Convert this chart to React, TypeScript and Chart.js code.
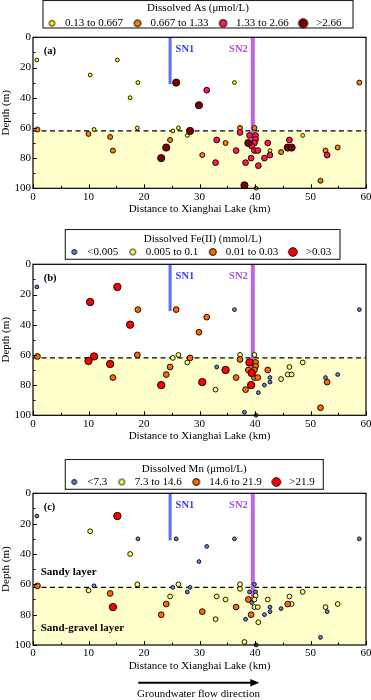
import React, { useEffect, useRef } from "react";
import { Chart, registerables } from "chart.js";

Chart.register(...registerables);

const FONT = "'Liberation Serif', 'Times New Roman', Times, serif";

// ---- sample locations (same wells in all three panels) ----
const distanceKm = [
  0.7, 10.3, 15.2, 18.9, 17.5, 25.8, 31.3, 29.9, 36.3, 58.8,
  0.8, 10.0, 11.0, 13.9, 14.4, 18.8, 23.1, 24.0, 24.7, 25.2,
  26.2, 27.8, 28.3, 30.5, 33.1, 34.7, 36.6, 32.9, 37.3, 37.3,
  39.9, 39.0, 40.1, 40.1, 38.8, 39.9, 39.4, 39.9, 40.5, 39.3,
  38.3, 40.6, 38.1, 40.2, 41.7, 42.7, 42.7, 42.3, 44.7, 45.9,
  46.6, 46.2, 48.6, 52.7, 53.0, 54.9, 51.8,
];
const depthM = [
  15, 25, 15, 30, 40, 30, 35, 45, 30, 30,
  61, 64, 61, 66, 75, 60, 80, 73, 68, 62,
  60, 65, 62, 78, 68, 70, 75, 83, 60, 63,
  60, 65, 65, 67.5, 70, 70, 72, 75, 75, 80,
  83, 85, 98, 100, 80, 78, 75, 70, 76, 73,
  73, 68, 65, 75, 78, 73, 95,
];
// class index (0..3) of each sample for each solute
const asClass = [
  0, 0, 0, 0, 0, 3, 2, 3, 0, 1,
  1, 1, 0, 1, 1, 0, 3, 3, 1, 0,
  0, 0, 3, 1, 2, 1, 2, 2, 1, 2,
  1, 2, 2, 2, 3, 2, 2, 2, 2, 2,
  2, 2, 3, 0, 2, 2, 0, 2, 1, 3,
  3, 2, 0, 1, 2, 1, 1,
];
const feClass = [
  0, 3, 3, 2, 3, 2, 2, 2, 0, 0,
  2, 3, 3, 3, 2, 2, 3, 2, 2, 1,
  1, 1, 2, 3, 0, 3, 2, 1, 1, 2,
  1, 3, 2, 2, 2, 2, 3, 2, 2, 3,
  2, 0, 0, 0, 0, 0, 0, 2, 1, 1,
  1, 1, 1, 0, 2, 0, 2,
];
const mnClass = [
  0, 1, 3, 0, 1, 0, 0, 0, 0, 0,
  2, 1, 0, 2, 3, 1, 2, 2, 1, 0,
  1, 0, 0, 2, 1, 1, 2, 1, 1, 1,
  0, 0, 0, 1, 2, 1, 0, 1, 1, 2,
  0, 1, 1, 0, 0, 0, 0, 1, 0, 2,
  1, 1, 1, 1, 0, 1, 0,
];

const asLabels = ["0.13 to 0.667", "0.667 to 1.33", "1.33 to 2.66", ">2.66"];
const feLabels = ["<0.005", "0.005 to 0.1", "0.01 to 0.03", ">0.03"];
const mnLabels = ["<7.3", "7.3 to 14.6", "14.6 to 21.9", ">21.9"];

const asColors = ["#ffff00", "#ff8000", "#ff1a4e", "#7d0000"];
const metalColors = ["#5b8de6", "#ffff6e", "#ff6a00", "#ff0000"];

const asRadii = [1.9, 2.5, 2.9, 3.6];
const metalRadii = [1.9, 2.4, 2.9, 3.7];
const asLegendRadii = [2.8, 3.4, 3.8, 4.6];
const metalLegendRadii = [2.4, 2.9, 3.4, 4.3];

const X_MIN = 0, X_MAX = 60, X_STEP = 10, X_MINOR = 5;
const Y_MIN = 0, Y_MAX = 100, Y_STEP = 20, Y_MINOR = 10;
const interfaceDepth = 62;
const sn1 = { x: 24.7, bottom: 31, label: "SN1" };
const sn2 = { x: 39.6, bottom: 72, label: "SN2" };

type PanelCfg = {
  tag: string;
  title: string;
  labels: string[];
  classes: number[];
  colors: string[];
  radii: number[];
  legendRadii: number[];
  top: number;
  height: number;
  tTop: number;
  tBottom: number;
  legendH: number;
  boxL: number;
  boxR: number;
  boxTop: number;
  boxH: number;
  padBottom: number;
  layers?: boolean;
  arrow?: boolean;
};

const panels: PanelCfg[] = [
  {
    tag: "(a)", title: "Dissolved As (\u03bcmol/L)", labels: asLabels, classes: asClass,
    colors: asColors, radii: asRadii, legendRadii: asLegendRadii,
    top: 0, height: 229, tTop: 2.8, tBottom: -5.2, legendH: 37.3,
    boxL: 43, boxR: 353, boxTop: 0.5, boxH: 28, padBottom: 13.1,
  },
  {
    tag: "(b)", title: "Dissolved Fe(II) (mmol/L)", labels: feLabels, classes: feClass,
    colors: metalColors, radii: metalRadii, legendRadii: metalLegendRadii,
    top: 229, height: 230, tTop: 4.5, tBottom: -7.2, legendH: 35.3,
    boxL: 65.3, boxR: 340, boxTop: 0.5, boxH: 30.3, padBottom: 16.1,
  },
  {
    tag: "(c)", title: "Dissolved Mn (\u03bcmol/L)", labels: mnLabels, classes: mnClass,
    colors: metalColors, radii: metalRadii, legendRadii: metalLegendRadii,
    top: 459, height: 241, tTop: 4.5, tBottom: -7.2, legendH: 34.3,
    boxL: 65.3, boxR: 323.3, boxTop: 0.5, boxH: 30.3, padBottom: 27.4,
    layers: true, arrow: true,
  },
];

function markerCanvas(color: string, r: number) {
  const size = Math.ceil(2 * r + 3);
  const c = document.createElement("canvas");
  c.width = size;
  c.height = size;
  const g = c.getContext("2d")!;
  g.beginPath();
  g.arc(size / 2, size / 2, r, 0, Math.PI * 2);
  g.fillStyle = color;
  g.fill();
  g.lineWidth = 1;
  g.strokeStyle = "#000";
  g.stroke();
  return c;
}

function Panel({ cfg }: { cfg: PanelCfg }) {
  const ref = useRef<HTMLCanvasElement | null>(null);

  useEffect(() => {
    if (!ref.current) return;
    const markers = cfg.legendRadii.map((r, k) => markerCanvas(cfg.colors[k], r));
    const LABEL_PAD = 7;

    const datasets = cfg.labels.map((lab, k) => ({
      label: lab,
      data: distanceKm
        .map((x, i) => ({ x, y: depthM[i] }))
        .filter((_, i) => cfg.classes[i] === k),
      backgroundColor: cfg.colors[k],
      borderColor: "#000",
      borderWidth: 0.9,
      pointRadius: cfg.radii[k],
      pointHoverRadius: cfg.radii[k],
      clip: false as any,
      order: 3 - k,
    }));

    const decor = {
      id: "decor",
      afterUpdate(chart: any) {
        const lg = chart.legend;
        if (!lg || !lg.lineWidths) return;
        lg.left = cfg.boxL;
        lg.right = cfg.boxR;
        lg.width = cfg.boxR - cfg.boxL;
        const natural = (lg.left + LABEL_PAD + lg.right - lg.lineWidths[0]) / 2;
        const desired = cfg.boxL + 1.5;
        lg.lineWidths[0] += 2 * (natural - desired);
      },
      beforeDatasetsDraw(chart: any) {
        const { ctx, chartArea: a, scales } = chart;
        const x = scales.x, y = scales.y;
        ctx.save();
        const yi = y.getPixelForValue(interfaceDepth);
        const yb = y.getPixelForValue(Y_MAX);
        ctx.fillStyle = "#ffffcc";
        ctx.fillRect(a.left, yi, a.right - a.left, yb - yi);
        ctx.setLineDash([5, 3.5]);
        ctx.strokeStyle = "#000";
        ctx.lineWidth = 1.2;
        ctx.beginPath();
        ctx.moveTo(a.left, yi);
        ctx.lineTo(a.right, yi);
        ctx.stroke();
        ctx.setLineDash([]);
        const drawV = (sn: any, color: string, w: number) => {
          const px = x.getPixelForValue(sn.x);
          ctx.strokeStyle = color;
          ctx.lineWidth = w;
          ctx.beginPath();
          ctx.moveTo(px, y.getPixelForValue(0));
          ctx.lineTo(px, y.getPixelForValue(sn.bottom));
          ctx.stroke();
        };
        drawV(sn1, "#5f6bff", 3);
        drawV(sn2, "#c066e0", 4);
        ctx.restore();
      },
      afterDatasetsDraw(chart: any) {
        const { ctx, chartArea: a, scales } = chart;
        const x = scales.x, y = scales.y;
        ctx.save();
        ctx.strokeStyle = "#000";
        ctx.lineWidth = 1;
        ctx.beginPath();
        for (let v = X_MIN; v <= X_MAX; v += X_MINOR) {
          const px = Math.round(x.getPixelForValue(v)) + 0.5;
          const len = v % X_STEP === 0 ? 4 : 2.5;
          ctx.moveTo(px, a.bottom);
          ctx.lineTo(px, a.bottom - len);
        }
        for (let v = Y_MIN; v <= Y_MAX; v += Y_MINOR) {
          const py = Math.round(y.getPixelForValue(v)) + 0.5;
          const len = v % Y_STEP === 0 ? 4 : 2.5;
          ctx.moveTo(a.left, py);
          ctx.lineTo(a.left + len, py);
        }
        ctx.stroke();
        ctx.lineWidth = 1.2;
        ctx.strokeRect(a.left, a.top, a.right - a.left, a.bottom - a.top);

        ctx.textBaseline = "middle";
        ctx.font = `bold 10.5px ${FONT}`;
        ctx.fillStyle = "#000";
        ctx.textAlign = "left";
        ctx.fillText(cfg.tag, a.left + 10.7, a.top + 14);
        ctx.fillStyle = "#3a3cff";
        ctx.fillText(sn1.label, x.getPixelForValue(sn1.x) + 5.5, a.top + 11.7);
        ctx.fillStyle = "#b24fd8";
        ctx.textAlign = "right";
        ctx.fillText(sn2.label, x.getPixelForValue(sn2.x) - 5, a.top + 11.7);
        if (cfg.layers) {
          ctx.fillStyle = "#000";
          ctx.textAlign = "left";
          ctx.font = `bold 11px ${FONT}`;
          ctx.fillText("Sandy layer", a.left + 7.7, a.top + 78.4);
          ctx.fillText("Sand-gravel layer", a.left + 7.7, a.top + 134.4);
        }
        ctx.restore();
      },
      afterDraw(chart: any) {
        const { ctx, chartArea: a } = chart;
        const lg = chart.legend;
        ctx.save();
        ctx.strokeStyle = "#222";
        ctx.lineWidth = 1.1;
        ctx.strokeRect(cfg.boxL, lg.top + cfg.boxTop, cfg.boxR - cfg.boxL, cfg.boxH - cfg.boxTop);
        if (cfg.arrow) {
          const ay = a.bottom + 37.7;
          const x0 = 138.3, x1 = 259.3;
          ctx.strokeStyle = "#000";
          ctx.fillStyle = "#000";
          ctx.lineWidth = 2;
          ctx.beginPath();
          ctx.moveTo(x0, ay);
          ctx.lineTo(x1 - 7, ay);
          ctx.stroke();
          ctx.beginPath();
          ctx.moveTo(x1, ay);
          ctx.lineTo(x1 - 9, ay - 3.8);
          ctx.lineTo(x1 - 9, ay + 3.8);
          ctx.closePath();
          ctx.fill();
          ctx.font = `11px ${FONT}`;
          ctx.textAlign = "center";
          ctx.textBaseline = "middle";
          ctx.fillText("Groundwater flow direction", 198.5, a.bottom + 49);
        }
        ctx.restore();
      },
    };

    const chart = new Chart(ref.current, {
      type: "scatter",
      data: { datasets: datasets as any },
      options: {
        responsive: false,
        animation: false,
        devicePixelRatio: 1,
        layout: { padding: { top: 0, left: 0, right: 5, bottom: cfg.padBottom } },
        plugins: {
          tooltip: { enabled: false },
          legend: {
            position: "top",
            fullSize: false,
            align: "center",
            maxHeight: cfg.legendH,
            title: {
              display: true,
              text: cfg.title,
              color: "#000",
              font: { family: FONT, size: 11 },
              padding: { top: cfg.tTop, bottom: cfg.tBottom },
            },
            labels: {
              usePointStyle: true,
              pointStyleWidth: 15,
              padding: LABEL_PAD,
              color: "#000",
              font: { family: FONT, size: 11 },
              generateLabels: () =>
                cfg.labels.map((t, k) => ({
                  text: t,
                  fillStyle: cfg.colors[k],
                  strokeStyle: "#000",
                  lineWidth: 1,
                  pointStyle: markers[k] as any,
                  hidden: false,
                  datasetIndex: k,
                  fontColor: "#000",
                })) as any,
            },
          } as any,
        },
        scales: {
          x: {
            type: "linear",
            min: X_MIN,
            max: X_MAX,
            ticks: { stepSize: X_STEP, color: "#000", padding: 2, maxRotation: 0, font: { family: FONT, size: 11 } },
            grid: { display: false, drawTicks: false },
            border: { display: false },
            title: {
              display: true,
              text: "Distance to Xianghai Lake (km)",
              color: "#000",
              font: { family: FONT, size: 11 },
              padding: 0,
            },
            afterFit: (s: any) => {
              s.height = 27.6;
              s.paddingLeft = 0;
              s.paddingRight = 0;
            },
          },
          y: {
            type: "linear",
            reverse: true,
            min: Y_MIN,
            max: Y_MAX,
            ticks: { stepSize: Y_STEP, color: "#000", padding: 2, font: { family: FONT, size: 11 } },
            grid: { display: false, drawTicks: false },
            border: { display: false },
            title: {
              display: true,
              text: "Depth (m)",
              color: "#000",
              font: { family: FONT, size: 11 },
              padding: 0,
            },
            afterFit: (s: any) => {
              s.width = 33;
              s.paddingTop = 0;
              s.paddingBottom = 0;
            },
          },
        },
      } as any,
      plugins: [decor as any],
    });
    return () => chart.destroy();
  }, [cfg]);

  return (
    <canvas
      ref={ref}
      width={371}
      height={cfg.height}
      style={{ position: "absolute", left: 0, top: cfg.top, width: 371, height: cfg.height }}
    />
  );
}

export default function App() {
  return (
    <div style={{ position: "absolute", left: 0, top: 0, width: 371, height: 700, background: "#fff", overflow: "hidden" }}>
      {panels.map((p) => (
        <Panel key={p.tag} cfg={p} />
      ))}
    </div>
  );
}
